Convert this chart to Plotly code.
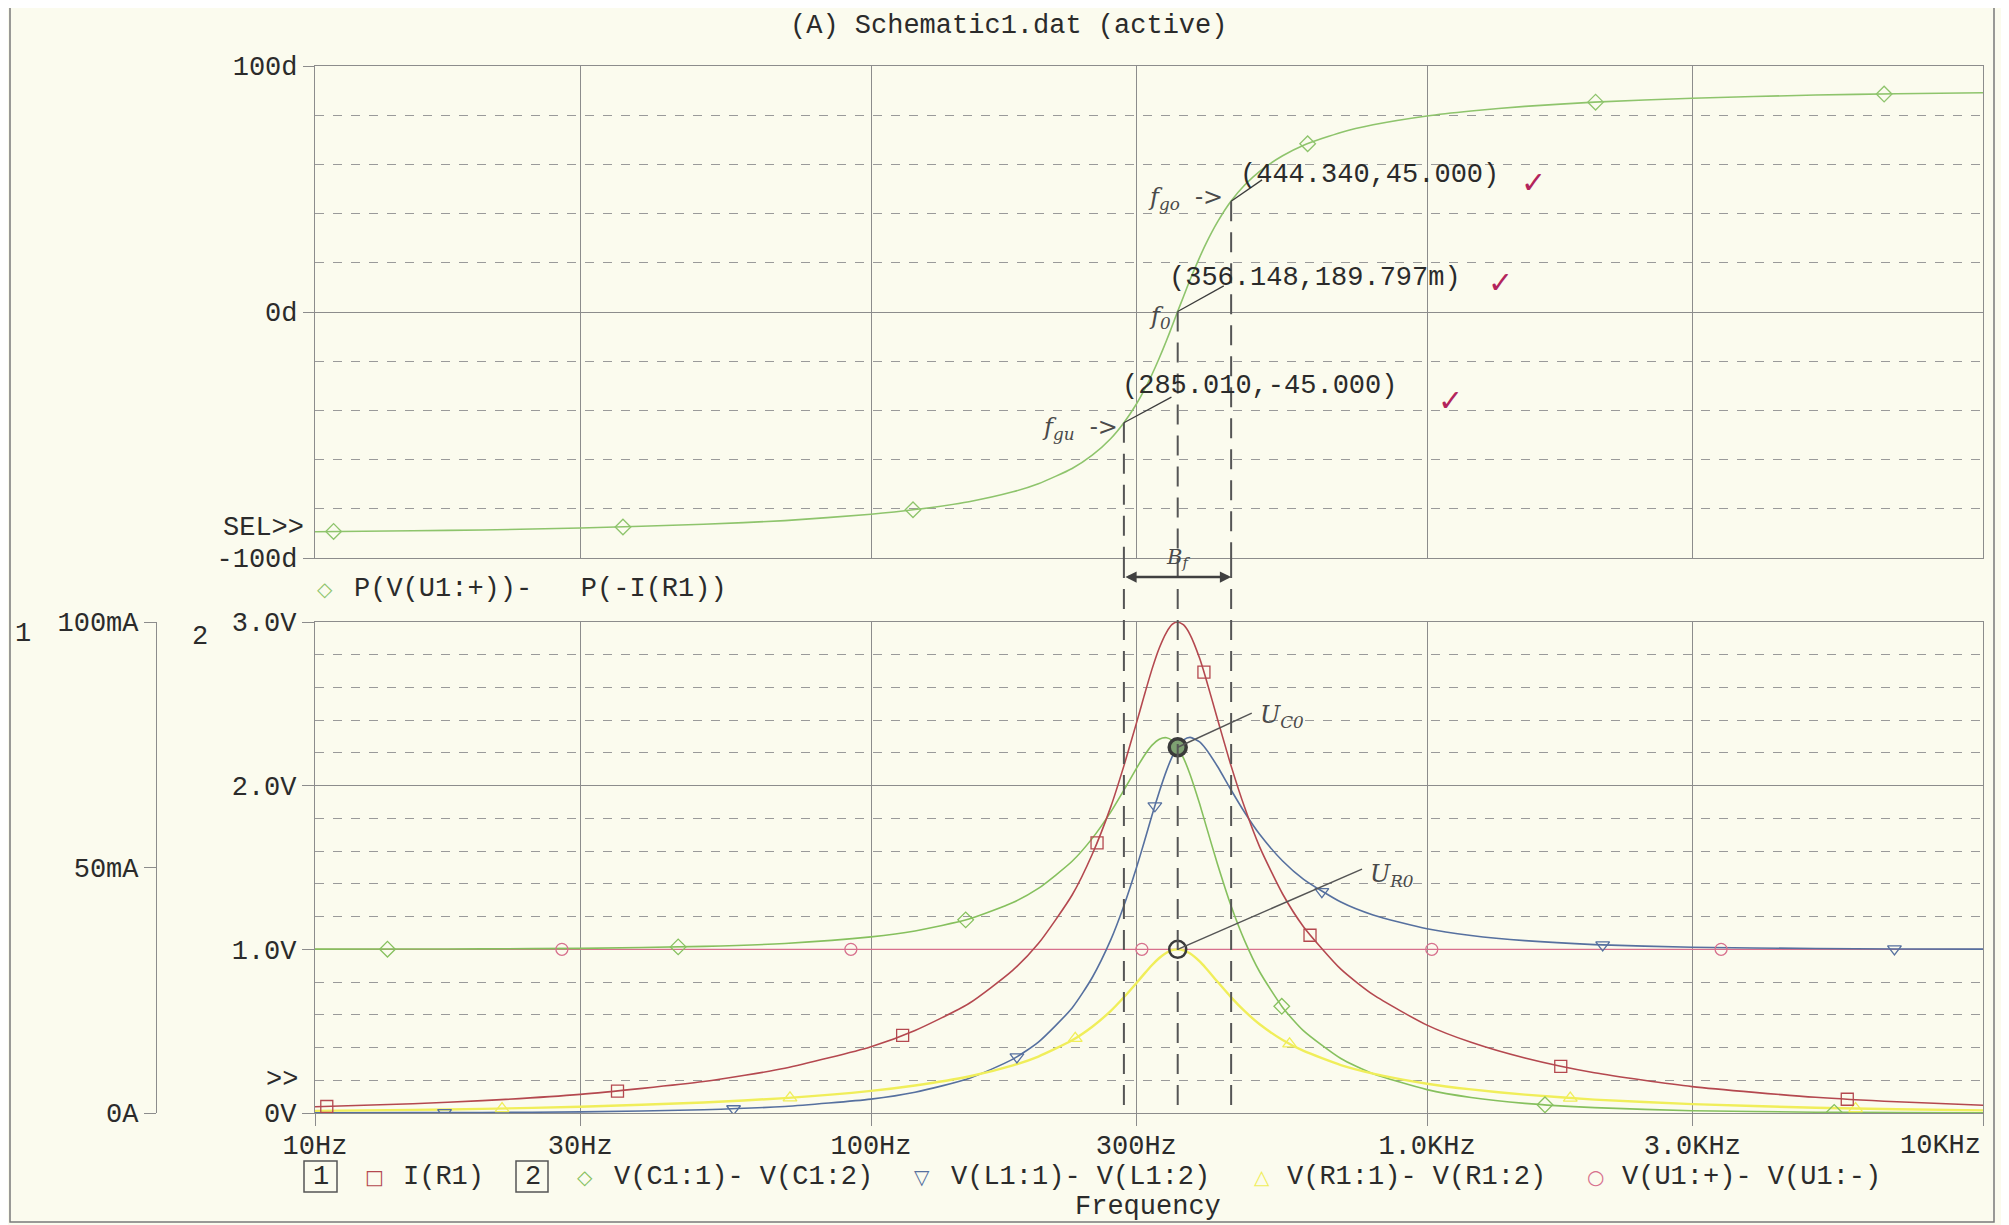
import numpy as np
import plotly.graph_objects as go

# ---------------- data ----------------
freq = [10, 15, 20, 30, 50, 70, 100, 120, 150, 180, 200, 230, 250, 270, 285, 300, 310, 320,
        330, 340, 348, 356, 365, 375, 390, 400, 420, 444, 470, 500, 550, 600, 700, 800,
        1000, 1200, 1500, 2000, 3000, 5000, 7000, 10000]
phase_deg = [-89.3, -88.9, -88.6, -87.8, -86.3, -84.8, -82.2, -80.3, -77.1, -73.1, -69.8, -63.6,
             -58.2, -51.4, -45.0, -37.5, -31.8, -25.5, -18.7, -11.6, -5.7, 0.2, 6.4, 13.2, 22.2,
             27.6, 36.6, 45.0, 51.6, 57.2, 63.5, 67.8, 73.0, 76.1, 79.7, 81.7, 83.6, 85.3, 86.9,
             88.2, 88.7, 89.1]
i_r1_mA = [1.26, 1.89, 2.52, 3.79, 6.40, 9.11, 13.5, 16.8, 22.3, 29.1, 34.5, 44.4, 52.7, 62.4,
           70.7, 79.3, 85.0, 90.3, 94.7, 97.9, 99.5, 100.0, 99.4, 97.4, 92.6, 88.6, 80.2, 70.8,
           62.2, 54.2, 44.6, 37.9, 29.3, 24.1, 17.9, 14.4, 11.2, 8.19, 5.37, 3.20, 2.28, 1.59]
v_c1 = [1.001, 1.002, 1.003, 1.006, 1.018, 1.036, 1.076, 1.112, 1.185, 1.286, 1.372, 1.538,
        1.678, 1.840, 1.973, 2.104, 2.183, 2.246, 2.284, 2.293, 2.276, 2.235, 2.167, 2.067,
        1.889, 1.762, 1.520, 1.268, 1.052, 0.863, 0.645, 0.502, 0.333, 0.240, 0.143, 0.095,
        0.059, 0.033, 0.014, 0.005, 0.003, 0.001]
v_l1 = [0.001, 0.002, 0.003, 0.007, 0.020, 0.040, 0.085, 0.127, 0.211, 0.329, 0.433, 0.642,
        0.828, 1.059, 1.266, 1.495, 1.656, 1.816, 1.963, 2.092, 2.176, 2.237, 2.280, 2.295,
        2.268, 2.226, 2.117, 1.975, 1.836, 1.703, 1.540, 1.428, 1.289, 1.210, 1.126, 1.085,
        1.053, 1.029, 1.013, 1.005, 1.002, 1.001]
v_r1 = [0.013, 0.019, 0.025, 0.038, 0.064, 0.091, 0.135, 0.168, 0.223, 0.291, 0.345, 0.444,
        0.527, 0.624, 0.707, 0.793, 0.850, 0.903, 0.947, 0.979, 0.995, 1.000, 0.994, 0.974,
        0.926, 0.886, 0.802, 0.708, 0.622, 0.542, 0.446, 0.379, 0.293, 0.241, 0.179, 0.144,
        0.112, 0.082, 0.054, 0.032, 0.023, 0.016]
v_u1_freq = [10, 10000]
v_u1 = [1.0, 1.0]

# trace symbols (PSpice places them sparsely along each trace)
phase_mk_f = [10.8, 35.8, 119, 610, 2010, 6640]
phase_mk_v = [-89.2, -87.4, -80.4, 68.4, 85.3, 88.6]
i_mk_f = [10.5, 35, 114, 255, 397, 616, 1740, 5700]
i_mk_v = [1.32, 4.44, 15.8, 55.0, 89.8, 36.2, 9.5, 2.8]
vc_mk_f = [13.5, 45, 148, 548, 1630, 5400]
vc_mk_v = [1.001, 1.015, 1.180, 0.652, 0.050, 0.004]
vl_mk_f = [17.1, 56.6, 183, 324, 647, 2070, 6930]
vl_mk_v = [0.002, 0.026, 0.343, 1.877, 1.352, 1.027, 1.003]
vr_mk_f = [21.7, 71.5, 233, 566, 1810, 5900]
vr_mk_v = [0.027, 0.093, 0.456, 0.422, 0.091, 0.027]
vu_mk_f = [27.8, 92, 307, 1020, 3380]
vu_mk_v = [1.0, 1.0, 1.0, 1.0, 1.0]

# cursor values
f_gu, ph_gu = 285.010, -45.000
f_0, ph_0 = 356.148, 0.189797
f_go, ph_go = 444.340, 45.000
u_c0 = 2.235
u_r0 = 1.0

x_tickvals = [10, 30, 100, 300, 1000, 3000, 10000]
x_ticktext = ["10Hz", "30Hz", "100Hz", "300Hz", "1.0KHz", "3.0KHz", ""]
x_last_label = "10KHz"
ph_tickvals = [-100, 0, 100]
ph_ticktext = ["-100d", "0d", "100d"]
v_tickvals = [0, 1, 2, 3]
v_ticktext = ["0V", "1.0V", "2.0V", "3.0V"]
i_tickvals = [0, 50, 100]
i_ticktext = ["0A", "50mA", "100mA"]

# ---------------- styling ----------------
OFF = 8                      # the page body adds an 8 px margin
W, H = 2009 - OFF, 1225 - OFF
BG = "#fbfbee"
GRID = "#8c8c8c"
TXT = "#2b2b2b"
MONO = "Liberation Mono, Courier New, DejaVu Sans Mono, monospace"
HAND = "DejaVu Serif, serif"
FS = 27
C_PH = "#8ec46c"
C_I = "#b4484f"
C_VC = "#86c05e"
C_VL = "#56709f"
C_VR = "#f0ee5a"
C_VU = "#d7708d"
C_CUR = "#3a3a3a"


def px(x):
    return (x - OFF) / W


def py(y):
    return 1 - (y - OFF) / H


XD = [px(315), px(1983)]
UPPER = [py(558), py(66)]
LOWER = [py(1113), py(622)]

fig = go.Figure()


def line(x, y, color, xa, ya, width=1.6):
    fig.add_trace(go.Scatter(x=x, y=y, mode="lines", xaxis=xa, yaxis=ya,
                             line=dict(color=color, width=width, shape="spline", smoothing=0.6),
                             hoverinfo="skip", showlegend=False))


def marks(x, y, color, symbol, xa, ya, size=12):
    fig.add_trace(go.Scatter(x=x, y=y, mode="markers", xaxis=xa, yaxis=ya,
                             marker=dict(symbol=symbol, size=size, color=color,
                                         line=dict(color=color, width=1.3)),
                             hoverinfo="skip", showlegend=False))


# upper: phase
line(freq, phase_deg, C_PH, "x", "y")
marks(phase_mk_f, phase_mk_v, C_PH, "diamond-open", "x", "y")

# lower
line(v_u1_freq, v_u1, C_VU, "x2", "y2", 1.4)
line(freq, i_r1_mA, C_I, "x2", "y3")
line(freq, v_c1, C_VC, "x2", "y2")
line(freq, v_l1, C_VL, "x2", "y2")
line(freq, v_r1, C_VR, "x2", "y2", 2.4)
marks(i_mk_f, i_mk_v, C_I, "square-open", "x2", "y3")
marks(vc_mk_f, vc_mk_v, C_VC, "diamond-open", "x2", "y2")
marks(vl_mk_f, vl_mk_v, C_VL, "triangle-down-open", "x2", "y2")
marks(vr_mk_f, vr_mk_v, C_VR, "triangle-up-open", "x2", "y2")
marks(vu_mk_f, vu_mk_v, C_VU, "circle-open", "x2", "y2")

# cursor points
fig.add_trace(go.Scatter(x=[f_0], y=[u_c0], mode="markers", xaxis="x2", yaxis="y2",
                         marker=dict(symbol="circle", size=17, color="#7ea072",
                                     line=dict(color=C_CUR, width=3.5)),
                         hoverinfo="skip", showlegend=False))
fig.add_trace(go.Scatter(x=[f_0], y=[u_r0], mode="markers", xaxis="x2", yaxis="y2",
                         marker=dict(symbol="circle-open", size=17, color=C_CUR,
                                     line=dict(color=C_CUR, width=2.5)),
                         hoverinfo="skip", showlegend=False))

axis_common = dict(showline=True, linecolor=GRID, linewidth=1.2, mirror=True,
                   showgrid=True, gridcolor=GRID, gridwidth=1, zeroline=False,
                   tickfont=dict(family=MONO, size=FS, color=TXT),
                   tickcolor=GRID, ticks="outside", automargin=False)

fig.update_layout(
    width=W, height=H, autosize=False,
    margin=dict(l=0, r=0, t=0, b=0, pad=0),
    paper_bgcolor=BG, plot_bgcolor=BG,
    showlegend=False,
    xaxis=dict(domain=XD, type="log", range=[1, 4], anchor="y",
               tickvals=x_tickvals, showticklabels=False, ticklen=0,
               **{k: v for k, v in axis_common.items() if k != "ticks"}),
    yaxis=dict(domain=UPPER, range=[-100, 100], anchor="x",
               tickvals=ph_tickvals, ticktext=ph_ticktext, ticklen=11,
               minor=dict(dtick=20, showgrid=True, gridcolor="#9a9a9a",
                          griddash="dash", gridwidth=1, ticks=""),
               **axis_common),
    xaxis2=dict(domain=XD, type="log", range=[1, 4], anchor="y2",
                tickvals=x_tickvals, ticktext=x_ticktext, ticklen=12,
                ticklabelstandoff=-5,
                **axis_common),
    yaxis2=dict(domain=LOWER, range=[0, 3], anchor="x2",
                tickvals=v_tickvals, ticktext=v_ticktext, ticklen=12,
                minor=dict(dtick=0.2, showgrid=True, gridcolor="#9a9a9a",
                           griddash="dash", gridwidth=1, ticks=""),
                **axis_common),
    yaxis3=dict(overlaying="y2", range=[0, 100], anchor="free", position=px(156),
                side="left", tickvals=i_tickvals, ticktext=i_ticktext, ticklen=12,
                showgrid=False, showline=True, linecolor=GRID, linewidth=1.2,
                zeroline=False, ticks="outside", tickcolor=GRID, automargin=False,
                tickfont=dict(family=MONO, size=FS, color=TXT)),
)

shapes = []
# outer frame
shapes.append(dict(type="rect", xref="paper", yref="paper", x0=px(10), x1=px(1994),
                   y0=py(1222), y1=py(4), line=dict(color="#7a7a7a", width=1.5)))
# legend number boxes
for x0, x1 in [(304, 337), (516, 548)]:
    shapes.append(dict(type="rect", xref="paper", yref="paper", x0=px(x0), x1=px(x1),
                       y0=py(1192), y1=py(1161), line=dict(color="#555", width=1.5)))
# hand-drawn dashed cursor lines (shape coords on log axes are data values)
DASH = dict(color="#555555", width=2, dash="20px,11px")
for f, ph in [(f_gu, ph_gu), (f_0, ph_0), (f_go, ph_go)]:
    shapes.append(dict(type="line", xref="x", yref="y", x0=f, x1=f,
                       y0=ph, y1=-100, line=DASH))
    shapes.append(dict(type="line", xref="x", yref="paper", x0=f, x1=f,
                       y0=UPPER[0], y1=LOWER[0], line=DASH))
# leader lines (upper)
LEAD = dict(color="#3c3c3c", width=1.3)
for (f1, v1), (f2, v2) in [((f_go, ph_go), (505, 53.7)),
                           ((f_0, ph_0), (431, 10.6)),
                           ((f_gu, ph_gu), (347, -34.6))]:
    shapes.append(dict(type="line", xref="x", yref="y", x0=f1, y0=v1,
                       x1=f2, y1=v2, line=LEAD))
# leader lines (lower)
for (f1, v1), (f2, v2) in [((f_0, u_c0), (484, 2.443)), ((f_0, u_r0), (764, 1.49))]:
    shapes.append(dict(type="line", xref="x2", yref="y2", x0=f1, y0=v1,
                       x1=f2, y1=v2, line=dict(color="#555", width=1.5)))
fig.update_layout(shapes=shapes)

ann = []


def text(x, y, s, xref="paper", yref="paper", xanchor="center", size=FS, color=TXT,
         family=MONO, **kw):
    ann.append(dict(x=x, y=y, xref=xref, yref=yref, text=s, showarrow=False,
                    xanchor=xanchor, yanchor="middle",
                    font=dict(family=family, size=size, color=color), **kw))


# title
text(px(1008), py(26), "(A) Schematic1.dat (active)")
# last x tick label, kept inside the frame (right-aligned at the 10 kHz tick)
text(np.log10(x_tickvals[-1]), py(1146), x_last_label, "x2", "paper", "right")
# cursor read-outs
text(np.log10(457), 55.7, "(444.340,45.000)", "x", "y", "left")
text(np.log10(340), 13.8, "(356.148,189.797m)", "x", "y", "left")
text(np.log10(281), -30.1, "(285.010,-45.000)", "x", "y", "left")
# handwritten labels
text(np.log10(433), 46.0, "<i>f<sub>go</sub></i>\u00a0\u00a0->", "x", "y", "right",
     size=24, color="#4a4a4a", family=HAND)
text(np.log10(331), -2.4, "<i>f<sub>0</sub></i>", "x", "y", "center",
     size=24, color="#4a4a4a", family=HAND)
text(np.log10(281), -47.5, "<i>f<sub>gu</sub></i>\u00a0\u00a0->", "x", "y", "right",
     size=24, color="#4a4a4a", family=HAND)
for f, v in [(1552, 52.8), (1353, 11.8), (1104, -35.8)]:
    text(np.log10(f), v, "\u2713", "x", "y", "center", size=30, color="#b3245c",
         family="DejaVu Sans")
text(np.log10(497), 2.42, "<i>U<sub>C0</sub></i>", "x2", "y2", "left",
     size=24, color="#4a4a4a", family=HAND)
text(np.log10(783), 1.454, "<i>U<sub>R0</sub></i>", "x2", "y2", "left",
     size=24, color="#4a4a4a", family=HAND)
# bandwidth arrow (above the lower plot, so y is given in paper units)
text(np.log10(356), py(558), "<i>B<sub>f</sub></i>", "x2", "paper", "center",
     size=21, color="#4a4a4a", family=HAND)
ann.append(dict(x=np.log10(f_go), y=py(577), ax=np.log10(f_gu), ay=0,
                xref="x2", yref="paper", axref="x2", ayref="pixel", text="",
                showarrow=True, arrowhead=2, startarrowhead=2, arrowside="end+start",
                arrowwidth=2.5, arrowsize=0.9, startarrowsize=0.9, arrowcolor="#404040"))
# selection markers
text(px(306), -88, "SEL>>", "paper", "y", "right")
text(px(300), 0.2, ">>", "paper", "y2", "right")
# axis numbers
text(px(23), py(634), "1")
text(px(200), py(637), "2")
# upper legend
text(px(325), py(589), "\u25c7", color=C_PH, size=20, family="DejaVu Sans")
text(px(352), py(589), "P(V(U1:+))-\u00a0\u00a0\u00a0P(-I(R1))", xanchor="left")
# bottom legend
LY = py(1177)
text(px(321), LY, "1")
text(px(533), LY, "2")
for cx, sym, col in [(374, "\u25a1", C_I), (585, "\u25c7", C_VC), (922, "\u25bd", C_VL),
                     (1262, "\u25b3", C_VR), (1595, "\u25cb", C_VU)]:
    text(px(cx), LY, sym, color=col, size=20, family="DejaVu Sans")
for lx, s in [(401, "I(R1)"), (612, "V(C1:1)-\u00a0V(C1:2)"), (949, "V(L1:1)-\u00a0V(L1:2)"),
              (1285, "V(R1:1)-\u00a0V(R1:2)"), (1620, "V(U1:+)-\u00a0V(U1:-)")]:
    text(px(lx), LY, s, xanchor="left")
text(px(1148), py(1207), "Frequency")

fig.update_layout(annotations=ann)
fig.write_html("out.html")
